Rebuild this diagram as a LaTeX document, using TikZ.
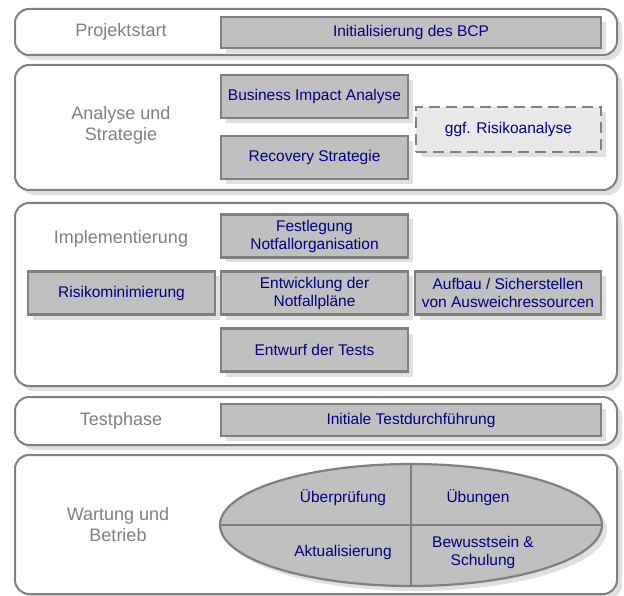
\documentclass[tikz,border=0pt]{standalone}
\usepackage{fontspec}
\setmainfont{Liberation Sans}
\usetikzlibrary{shapes.geometric,shadows}

\definecolor{bandline}{RGB}{128,128,128}
\definecolor{taskfill}{RGB}{192,192,192}
\definecolor{taskline}{RGB}{128,128,128}
\definecolor{tasktext}{RGB}{0,0,128}
\definecolor{phasetext}{RGB}{128,128,128}
\definecolor{riskfill}{RGB}{232,232,232}

\tikzset{
  shade/.style={drop shadow={shadow xshift=5pt,shadow yshift=-5pt,fill=black!12,opacity=1}},
  band/.style={draw=bandline,line width=2pt,rounded corners=14pt,fill=white,
    minimum width=602pt,inner sep=0pt,shade},
  phase/.style={text=phasetext,font=\fontsize{18}{21}\selectfont,align=center},
  task/.style={draw=taskline,fill=taskfill,line width=2.2pt,text=tasktext,
    font=\fontsize{15.5}{18}\selectfont,align=center,inner sep=0pt,
    minimum width=187pt,minimum height=43pt,shade},
  wide/.style={task,minimum width=380pt,minimum height=31pt},
  quarter/.style={text=tasktext,font=\fontsize{15.5}{18}\selectfont,align=center}
}

\begin{document}
\begin{tikzpicture}[x=1pt,y=-1pt]
  \useasboundingbox (0,0) rectangle (624,596);
  % phases
  \node [band,minimum height=46pt] (start) at (316,32) {};
  \node [band,minimum height=125pt] (analyse) at (316,127.5) {};
  \node [band,minimum height=183pt] (impl) at (316,294.5) {};
  \node [band,minimum height=48pt] (test) at (316,421) {};
  \node [band,minimum height=139pt] (betrieb) at (316,524.5) {};

  \node [phase] (lstart) at (121,32) {Projektstart};
  \node [phase] (lanalyse) at (121,125) {Analyse und\\Strategie};
  \node [phase] (limpl) at (121,239) {Implementierung};
  \node [phase] (ltest) at (121,421) {Testphase};
  \node [phase] (lbetrieb) at (118,525) {Wartung und\\Betrieb};

  % tasks
  \node [wide] (init) at (411,32.5) {Initialisierung des BCP};
  \node [task] (bia) at (314.5,96.5) {Business Impact Analyse};
  \node [task] (recovery) at (314.5,157.5) {Recovery Strategie};
  \node [task,fill=riskfill,dash pattern=on 11pt off 6pt,minimum width=185pt,
    minimum height=45pt] (risiko) at (508.5,129.5) {ggf. Risikoanalyse};
  \node [task] (orga) at (314.5,236) {Festlegung\\Notfallorganisation};
  \node [task] (minim) at (121.5,293) {Risikominimierung};
  \node [task] (plaene) at (314.5,293) {Entwicklung der\\Notfallpläne};
  \node [task,minimum width=186pt] (ausweich) at (508,293) {Aufbau / Sicherstellen\\von Ausweichressourcen};
  \node [task] (tests) at (314.5,350) {Entwurf der Tests};
  \node [wide,minimum height=32pt] (itest) at (411,420) {Initiale Testdurchführung};

  % cycle
  \node [ellipse,draw=taskline,fill=taskfill,line width=2.2pt,inner sep=0pt,
    minimum width=382pt,minimum height=122pt,shade] (zyklus) at (411,525) {};
  \draw [draw=taskline,line width=2pt] (zyklus.north) -- (zyklus.south);
  \draw [draw=taskline,line width=2pt] (zyklus.west) -- (zyklus.east);
  \node [quarter] (pruef) at (343,498) {Überprüfung};
  \node [quarter] (uebung) at (478,498) {Übungen};
  \node [quarter] (aktual) at (343,552) {Aktualisierung};
  \node [quarter] (schulung) at (483,552) {Bewusstsein \&\\Schulung};
\end{tikzpicture}
\end{document}
